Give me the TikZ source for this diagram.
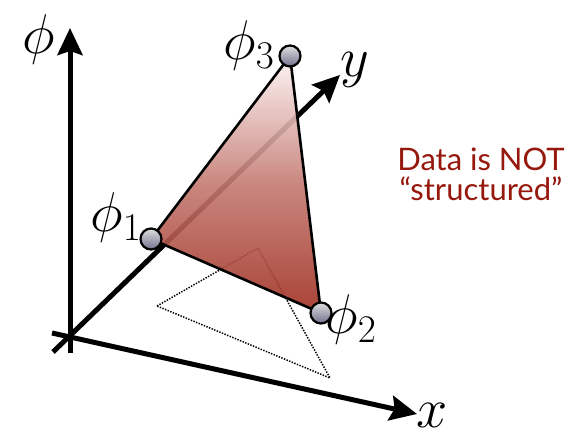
\RequirePackage{fix-cm}
\documentclass[tikz,border=0pt]{standalone}
\usepackage{fontspec}
\newfontfamily\notefont{Lato}
\usetikzlibrary{arrows.meta}
\definecolor{notered}{RGB}{150,24,12}
\definecolor{trired}{RGB}{160,46,32}
\definecolor{tritop}{RGB}{253,244,244}
\tikzset{
  axisline/.style={line width=5pt,-{Stealth[length=27pt,width=25pt,inset=4pt]}},
  dotline/.style={line width=1.5pt,dash pattern=on 1.4pt off 1.4pt},
  tri/.style={line width=2.6pt,line join=round},
  ball/.style={circle,draw=black,line width=2.2pt,minimum size=21pt,inner sep=0pt,top color=gray!25,bottom color=gray!70!blue!40!gray},
  lbl/.style={inner sep=0pt,font=\fontsize{56}{60}\selectfont},
  note/.style={inner sep=0pt,align=center,text=notered,font=\notefont\fontsize{31}{30}\selectfont}
}
\begin{document}
\begin{tikzpicture}[x=1pt,y=-1pt]
\useasboundingbox (0,0) rectangle (586,435);
% axis coordinates
\coordinate (phib) at (70,353);
\coordinate (phit) at (70,28);
\coordinate (xb) at (52,333);
\coordinate (xt) at (417,414);
\coordinate (yb) at (53,352);
\coordinate (yt) at (340,75);
% triangle corners
\coordinate (c1) at (151,239);
\coordinate (c2) at (321,313);
\coordinate (c3) at (290,56);
% projected triangle
\coordinate (d1) at (157,306);
\coordinate (d2) at (258,248);
\coordinate (d3) at (330,378);
% projection
\draw[dotline] (d1) -- (d2) -- (d3) -- cycle;
% axes
\draw[axisline] (phib) -- (phit);
\draw[axisline] (xb) -- (xt);
\draw[axisline] (yb) -- (yt);
% shaded triangle
\shade[top color=tritop,bottom color=trired,middle color=trired!62!tritop,fill opacity=0.9] (c1) -- (c2) -- (c3) -- cycle;
\draw[tri] (c1) -- (c2) -- (c3) -- cycle;
% vertices
\node[ball] (b1) at (c1) {};
\node[ball] (b2) at (c2) {};
\node[ball] (b3) at (c3) {};
% labels
\node[lbl] (lphi) at (39,40) {$\phi$};
\node[lbl] (l1) at (116,218) {$\phi_1$};
\node[lbl] (l2) at (351,320) {$\phi_2$};
\node[lbl] (l3) at (249,46) {$\phi_3$};
\node[lbl] (lx) at (432,415) {$x$};
\node[lbl] (ly) at (355,70) {$y$};
\node[note] (txt) at (481,174) {Data is NOT\\“structured”};
\end{tikzpicture}
\end{document}
